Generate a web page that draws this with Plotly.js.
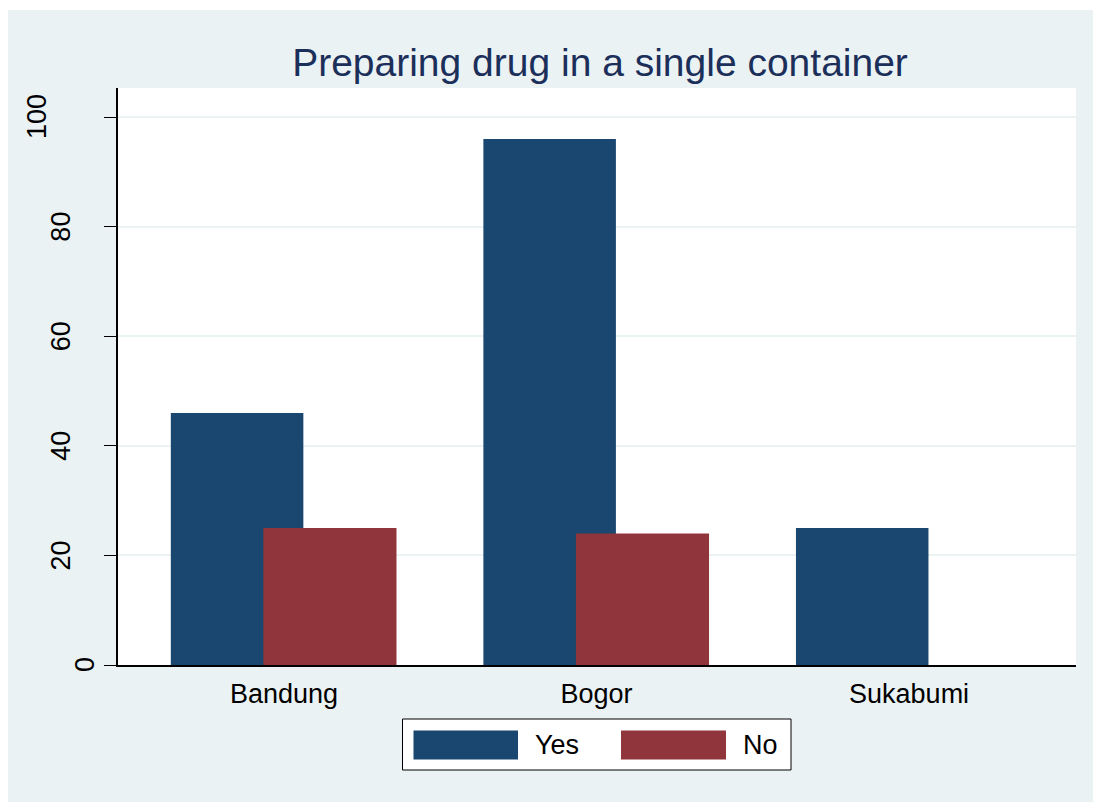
<!DOCTYPE html>
<html>
<head>
<meta charset="utf-8">
<script src="https://cdn.plot.ly/plotly-3.0.1.min.js"></script>
<style>
  html, body { margin: 0; padding: 0; background: #ffffff; overflow: hidden; }
  #chart { position: absolute; left: 8px; top: 10px; width: 1085px; height: 792px; }
</style>
</head>
<body>
<div id="chart"></div>
<script>
// ---- data ----
const categories = ["Bandung", "Bogor", "Sukabumi"];
const seriesNames = ["Yes", "No"];
const yesValues = [46, 96, 25];
const noValues = [25, 24, 0];
const yTickVals = [0, 20, 40, 60, 80, 100];
const yTickText = ["0", "20", "40", "60", "80", "100"];
const chartTitle = "Preparing drug in a single container";

// ---- style ----
const FONT = "Liberation Sans, Arial, sans-serif";
const colors = ["#1a476f", "#90353b"];
const bg = "#eaf2f3";

// plot area geometry in px (relative to page) for helper conversions
const plotLeft = 118, plotRight = 1076, plotTop = 88, plotBottom = 665;
const pw = plotRight - plotLeft, ph = plotBottom - plotTop;
const px2x = p => (p - plotLeft) / pw;
const py2y = p => (plotBottom - p) / ph;

const traces = [
  { type: "bar", name: seriesNames[0], x: categories, y: yesValues,
    offset: -0.362, width: 0.424, marker: { color: colors[0], line: { width: 0 } },
    hoverinfo: "x+y+name" },
  { type: "bar", name: seriesNames[1], x: categories, y: noValues,
    offset: -0.066, width: 0.426, marker: { color: colors[1], line: { width: 0 } },
    hoverinfo: "x+y+name" }
];

const annotations = [];
yTickVals.forEach((v, i) => {
  const t = yTickText[i];
  annotations.push({
    text: t, xref: "paper", yref: "y", x: px2x(109 - 24 * t.length), y: v,
    xanchor: "center", yanchor: "middle", textangle: -90, showarrow: false,
    font: { family: FONT, size: 27, color: "#000000" }
  });
});

// custom legend (swatches + labels)
const shapes = [
  { type: "rect", xref: "paper", yref: "paper", x0: px2x(402.5), x1: px2x(791), y0: py2y(770), y1: py2y(719),
    fillcolor: "#ffffff", line: { color: "#000000", width: 1 } },
  { type: "rect", xref: "paper", yref: "paper", x0: px2x(413.5), x1: px2x(518), y0: py2y(759.5), y1: py2y(730.5),
    fillcolor: colors[0], line: { width: 0 } },
  { type: "rect", xref: "paper", yref: "paper", x0: px2x(621), x1: px2x(726), y0: py2y(759.5), y1: py2y(730.5),
    fillcolor: colors[1], line: { width: 0 } }
];
annotations.push({
  text: seriesNames[0], xref: "paper", yref: "paper", x: px2x(533), y: py2y(745),
  xanchor: "left", yanchor: "middle", showarrow: false,
  font: { family: FONT, size: 27, color: "#000000" }
});
annotations.push({
  text: seriesNames[1], xref: "paper", yref: "paper", x: px2x(741), y: py2y(745),
  xanchor: "left", yanchor: "middle", showarrow: false,
  font: { family: FONT, size: 27, color: "#000000" }
});

const layout = {
  width: 1085, height: 792,
  paper_bgcolor: bg, plot_bgcolor: "#ffffff",
  margin: { l: 110, r: 17, t: 78, b: 137, pad: 0 },
  barmode: "overlay",
  showlegend: false,
  title: {
    text: chartTitle, xref: "container", yref: "container",
    x: 592 / 1085, y: 1 - 52 / 792, xanchor: "center", yanchor: "middle",
    font: { family: FONT, size: 39, color: "#1c2f5a" }
  },
  xaxis: {
    type: "category", range: [-0.531, 2.534],
    showline: true, linecolor: "#000000", linewidth: 1.5,
    ticks: "", showgrid: false, zeroline: false,
    tickfont: { family: FONT, size: 27, color: "#000000" },
    ticklabelstandoff: 4
  },
  yaxis: {
    range: [0, 105.3], tickvals: yTickVals, showticklabels: false,
    ticks: "outside", ticklen: 12, tickcolor: "#000000", tickwidth: 1.2,
    showline: true, linecolor: "#000000", linewidth: 1.5,
    showgrid: true, gridcolor: bg, gridwidth: 2, zeroline: false
  },
  shapes: shapes,
  annotations: annotations
};

Plotly.newPlot("chart", traces, layout, { displayModeBar: false, staticPlot: false });
</script>
</body>
</html>
